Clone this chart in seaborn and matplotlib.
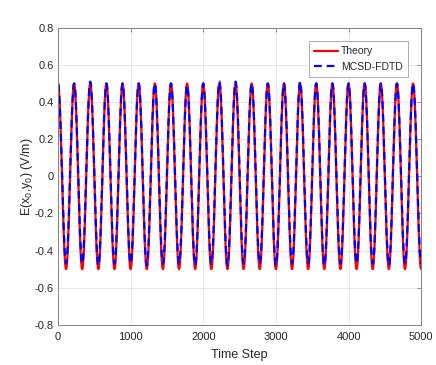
import numpy as np
import pandas as pd
import matplotlib
matplotlib.use("Agg")
import matplotlib.pyplot as plt
import seaborn as sns

# ---- data ----
n_steps = 5000
theory_amplitude = 0.5
theory_period = 222.2          # time steps per cycle (22.5 cycles over 5000 steps)
# MCSD-FDTD extrema (alternating peak / trough), one per half cycle
fdtd_extrema = [0.50, -0.47, 0.50, -0.47, 0.51, -0.48, 0.50, -0.47, 0.50, -0.47,
                0.50, -0.48, 0.50, -0.47, 0.50, -0.47, 0.49, -0.48, 0.50, -0.47,
                0.51, -0.48, 0.51, -0.47, 0.50, -0.47, 0.50, -0.48, 0.50, -0.47,
                0.51, -0.47, 0.50, -0.48, 0.50, -0.47, 0.50, -0.47, 0.50, -0.47,
                0.50, -0.48, 0.50, -0.47, 0.50, -0.47]
series_names = ["Theory", "MCSD-FDTD"]
x_ticks = [0, 1000, 2000, 3000, 4000, 5000]
y_ticks = [-0.8, -0.6, -0.4, -0.2, 0, 0.2, 0.4, 0.6, 0.8]

# ---- build curves ----
t = np.arange(0, n_steps + 1, 2.0)
theory = theory_amplitude * np.cos(2 * np.pi * t / theory_period)

half = theory_period / 2
ext = np.array(fdtd_extrema)
k = np.clip(np.floor(t / half).astype(int), 0, len(ext) - 2)
frac = (t - k * half) / half
w = 0.5 * (1 - np.cos(np.pi * frac))
fdtd = ext[k] * (1 - w) + ext[k + 1] * w

df_theory = pd.DataFrame({"step": t, "E": theory})
df_fdtd = pd.DataFrame({"step": t, "E": fdtd})

# ---- styling ----
sns.set_style("white")
plt.rcParams["font.family"] = ["Liberation Sans", "DejaVu Sans"]
plt.rcParams["mathtext.default"] = "regular"

fig = plt.figure(figsize=(4.36, 3.65), dpi=100)
ax = fig.add_axes([0.133, 0.110, 0.833, 0.814])

sns.lineplot(data=df_theory, x="step", y="E", ax=ax, color="#ff0000",
             linewidth=1.6, label=series_names[0], estimator=None)
sns.lineplot(data=df_fdtd, x="step", y="E", ax=ax, color="#0000ff",
             linewidth=1.6, linestyle=(0, (3.5, 2.2)), label=series_names[1],
             estimator=None)

ax.set_xlim(0, 5000)
ax.set_ylim(-0.8, 0.8)
ax.set_xticks(x_ticks)
ax.set_yticks(y_ticks)
ax.set_yticklabels(["-0.8", "-0.6", "-0.4", "-0.2", "0", "0.2", "0.4", "0.6", "0.8"])
ax.grid(True, color="#e3e3e3", linewidth=0.6)
ax.set_axisbelow(True)

for s in ax.spines.values():
    s.set_color("#808080")
    s.set_linewidth(0.7)
    s.set_visible(True)

ax.tick_params(axis="both", which="both", direction="in", length=3, width=0.6,
               color="#808080", labelsize=8, labelcolor="#262626",
               top=True, right=True, pad=3)
ax.tick_params(axis="x", pad=5)

ax.set_xlabel("Time Step", fontsize=9, color="#262626", labelpad=5)
ax.set_ylabel(r"E(x$_0$,y$_0$) (V/m)", fontsize=9, color="#262626")
ax.yaxis.set_label_coords(-0.062, 0.5)

leg = ax.legend(loc="upper right", fontsize=7.5, frameon=True, fancybox=False,
                edgecolor="#a0a0a0", framealpha=1, borderpad=0.5,
                handlelength=2.3, handletextpad=0.3, labelspacing=0.5,
                bbox_to_anchor=(0.978, 0.972))
leg.get_frame().set_linewidth(0.6)
for txt in leg.get_texts():
    txt.set_color("#262626")

fig.savefig("out.png", dpi=100)
